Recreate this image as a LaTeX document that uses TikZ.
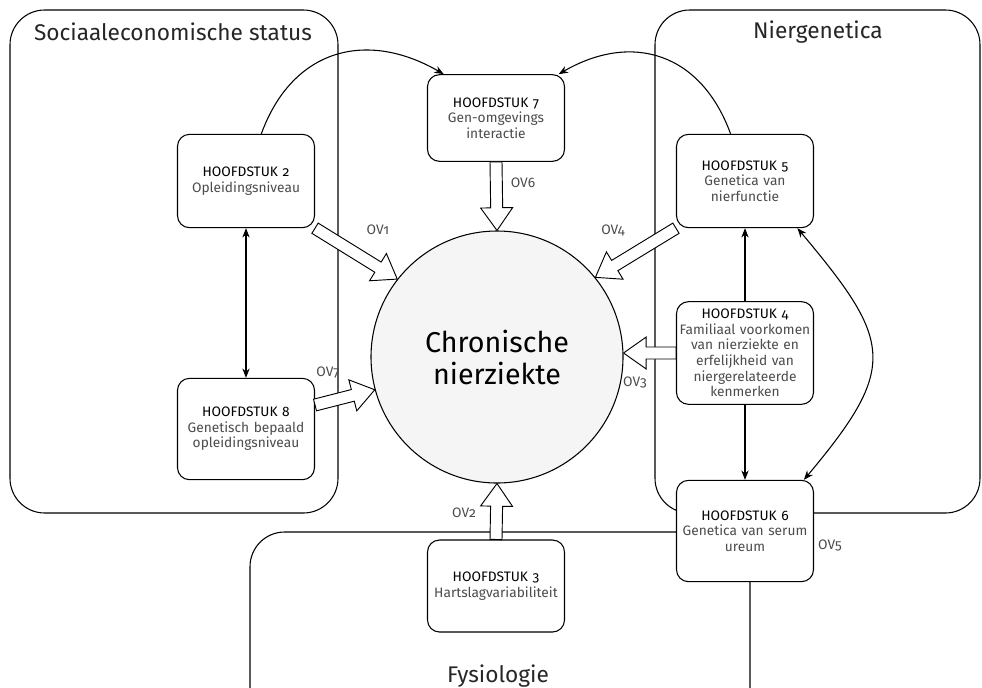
\documentclass[tikz,border=0pt]{standalone}
\usepackage{fontspec}
\setmainfont{Fira Sans}[Numbers=OldStyle]
\usetikzlibrary{arrows.meta,calc}

% heading line of a chapter box
\newcommand{\hfd}[1]{{\color{black}HOOFDSTUK #1}\\}

% hollow block arrow from #1 to #2
\newcommand{\blockarrow}[2]{%
  \path let \p1=($(#2)-(#1)$) in
    \pgfextra{\pgfmathsetmacro\tmpang{atan2(\y1,\x1)}\xdef\baang{\tmpang}%
              \pgfmathsetmacro\tmplen{veclen(\x1,\y1)}\xdef\balen{\tmplen}};
  \draw[blockarr, shift={(#1)}, rotate=\baang]
    (0pt,-4.5pt) -- (\balen pt-17pt,-4.5pt) -- (\balen pt-17pt,-12pt)
    -- (\balen pt,0pt) -- (\balen pt-17pt,12pt) -- (\balen pt-17pt,4.5pt)
    -- (0pt,4.5pt) -- cycle;
}

\begin{document}
\begin{tikzpicture}[
  x=0.75pt, y=-0.75pt,
  >={Stealth[length=7pt,width=5.5pt]},
  every node/.style={font=\fontsize{10.3}{11.7}\selectfont},
  line width=0.8pt,
  groupbox/.style={draw, rounded corners=26pt},
  grouptitle/.style={font=\fontsize{17}{20}\selectfont, text=black!85},
  hfdst/.style={draw, fill=white, rounded corners=9pt, align=center,
    text width=99pt, inner sep=1pt, minimum width=102.75pt, text=black!70},
  ovlabel/.style={text=black!70},
  blockarr/.style={draw, fill=white, line width=0.7pt}
]

\useasboundingbox (0,0) rectangle (982,687);
\clip (0,0) rectangle (982,687);

% ============================================================
% Groups
% ============================================================
\draw[groupbox] (10,10) rectangle (338,513);
\node[grouptitle] (tsoc) at (173,32) {Sociaaleconomische status};

\draw[groupbox] (655,10) rectangle (980,513);
\node[grouptitle] (tnier) at (818,32) {Niergenetica};

\draw[groupbox] (250,532) rectangle (750,740);
\node[grouptitle] (tfys) at (498,676) {Fysiologie};

% ============================================================
% Chapters
% ============================================================
\node[hfdst, minimum height=70pt] (h2) at (246,181) {\hfd{2}Opleidingsniveau};
\node[hfdst, minimum height=65pt] (h7) at (496,118) {\hfd{7}Gen-omgevings\\interactie};
\node[hfdst, minimum height=70pt] (h5) at (745,181) {\hfd{5}Genetica van\\nierfunctie};
\node[hfdst, minimum height=77pt] (h4) at (745,353)
  {\hfd{4}Familiaal voorkomen\\van nierziekte en\\erfelijkheid van\\niergerelateerde\\kenmerken};
\node[hfdst, minimum height=76pt] (h8) at (246,429) {\hfd{8}Genetisch bepaald\\opleidingsniveau};
\node[hfdst, minimum height=76pt] (h6) at (745,531) {\hfd{6}Genetica van serum\\ureum};
\node[hfdst, minimum height=69pt] (h3) at (496,586) {\hfd{3}Hartslagvariabiliteit};

% ============================================================
% Chronic kidney disease
% ============================================================
\node[circle, draw, fill=gray!8, minimum size=189pt, inner sep=0pt, align=center,
  font=\fontsize{21.5}{24}\selectfont] (ckd) at (497,357) {Chronische\\nierziekte};

% ============================================================
% Research questions (block arrows)
% ============================================================
\coordinate (h8o) at ($(h8.east)+(0,-24)$);
\coordinate (t3) at (h4.west -| ckd.east);

\blockarrow{h2.south east}{ckd.142}
\blockarrow{h7.south}{ckd.north}
\blockarrow{h5.south west}{ckd.39}
\blockarrow{h4.west}{t3}
\blockarrow{h8o}{ckd.195}
\blockarrow{h3.north}{ckd.south}

\node[ovlabel] (ov1) at (378,230) {OV1};
\node[ovlabel] (ov6) at (523,183) {OV6};
\node[ovlabel] (ov4) at (613,230) {OV4};
\node[ovlabel] (ov3) at (635,382) {OV3};
\node[ovlabel] (ov7) at (328,372) {OV7};
\node[ovlabel] (ov2) at (464,513) {OV2};
\node[ovlabel] (ov5) at (830,545) {OV5};

% ============================================================
% Links between chapters
% ============================================================
\draw[<->] (h2.south) -- (h8.north);
\draw[->] (h4.north) -- (h5.south);
\draw[->] (h4.south) -- (h6.north);
\draw[<->] (h5.-42) to[out=-50, in=50, looseness=1.5] (h6.41);
\draw[->] (h2.72) to[out=70, in=150, looseness=1.2] (h7.140);
\draw[->] (h5.107) to[out=110, in=30, looseness=1.2] (h7.35);

\end{tikzpicture}
\end{document}
